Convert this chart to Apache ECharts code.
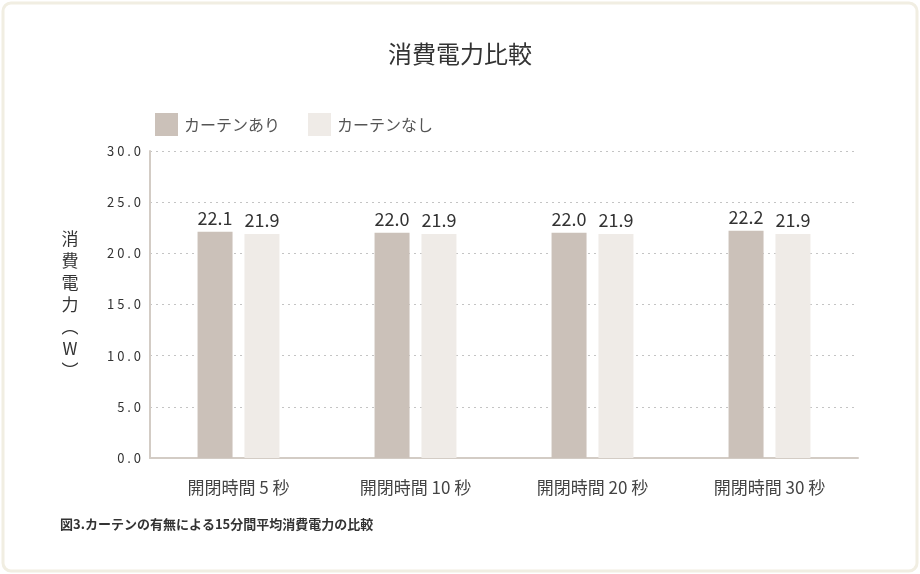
<!DOCTYPE html>
<html>
<head>
<meta charset="utf-8">
<script src="https://cdn.jsdelivr.net/npm/echarts@6/dist/echarts.min.js"></script>
<style>
html,body{margin:0;padding:0;background:#fff;}
#chart{width:920px;height:574px;}
</style>
</head>
<body>
<div id="chart"></div>
<script>
const categories = ['開閉時間 5 秒', '開閉時間 10 秒', '開閉時間 20 秒', '開閉時間 30 秒'];
const seriesNames = ['カーテンあり', 'カーテンなし'];
const withCurtain = [22.1, 22.0, 22.0, 22.2];
const withoutCurtain = [21.9, 21.9, 21.9, 21.9];
const titleText = '消費電力比較';
const yAxisName = '消費電力(W)';
const captionText = '図3.カーテンの有無による15分間平均消費電力の比較';

const FONT = '"Noto Sans CJK JP", "Noto Sans", sans-serif';
const verticalName = yAxisName.replace('(', '︵').replace(')', '︶').split('').join('\n');

const chart = echarts.init(document.getElementById('chart'), null, {renderer: 'canvas'});
chart.setOption({
  backgroundColor: '#ffffff',
  animation: false,
  textStyle: {fontFamily: FONT},
  title: {
    text: titleText,
    left: 'center',
    top: 37,
    textStyle: {fontFamily: FONT, fontSize: 24, fontWeight: 'normal', color: '#333'}
  },
  legend: {
    left: 150,
    top: 108,
    itemWidth: 23,
    itemHeight: 23,
    itemGap: 28,
    icon: 'rect',
    data: seriesNames,
    textStyle: {fontFamily: FONT, fontSize: 16, color: '#555', padding: [0, 0, 0, 1]}
  },
  grid: {left: 150, right: 62, top: 151, bottom: 116, containLabel: false},
  xAxis: {
    type: 'category',
    data: categories,
    axisLine: {lineStyle: {color: '#d3ccc5', width: 2}},
    axisTick: {show: false},
    axisLabel: {fontFamily: FONT, fontSize: 17, color: '#444', margin: 21}
  },
  yAxis: {
    type: 'value',
    min: 0,
    max: 30,
    interval: 5,
    name: verticalName,
    nameLocation: 'middle',
    nameRotate: 0,
    nameGap: 80,
    nameTextStyle: {fontFamily: FONT, fontSize: 17, color: '#333', align: 'center', verticalAlign: 'middle', lineHeight: 22},
    axisLine: {show: true, lineStyle: {color: '#d3ccc5', width: 2}},
    axisTick: {show: false},
    splitLine: {lineStyle: {color: '#c4c4c4', type: [2, 4], width: 1}},
    axisLabel: {
      fontFamily: FONT, fontSize: 13, color: '#333', margin: 9,
      formatter: v => v.toFixed(1).split('').join(' ')
    }
  },
  series: [
    {
      name: seriesNames[0],
      type: 'bar',
      data: withCurtain,
      barWidth: 35,
      barGap: '34%',
      itemStyle: {color: '#cbc1b9'},
      label: {show: true, position: 'top', distance: 5, fontFamily: FONT, fontSize: 18, color: '#333', formatter: p => p.value.toFixed(1)}
    },
    {
      name: seriesNames[1],
      type: 'bar',
      data: withoutCurtain,
      barWidth: 35,
      itemStyle: {color: '#efebe7'},
      label: {show: true, position: 'top', distance: 5, fontFamily: FONT, fontSize: 18, color: '#333', formatter: p => p.value.toFixed(1)}
    }
  ],
  graphic: [
    {
      type: 'rect',
      z: -10,
      silent: true,
      shape: {x: 3, y: 3, width: 914, height: 568, r: 8},
      style: {fill: '#fff', stroke: '#f1eee2', lineWidth: 3}
    },
    {
      type: 'text',
      left: 60,
      top: 518,
      silent: true,
      style: {text: captionText, font: 'bold 13px ' + FONT, fill: '#333'}
    }
  ]
});
</script>
</body>
</html>
